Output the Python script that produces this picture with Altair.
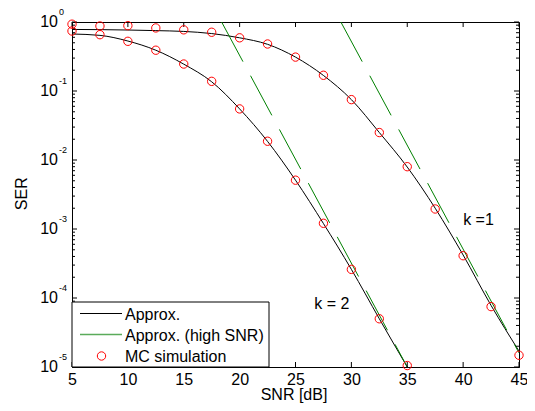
import altair as alt
import pandas as pd

# ---------------- data ----------------
snr_k1 = [5, 7.5, 10, 12.5, 15, 17.5, 20, 22.5, 25, 27.5, 30, 32.5, 35, 37.5, 40, 42.5, 45]
approx_k1 = [0.78, 0.775, 0.765, 0.75, 0.73, 0.68, 0.59, 0.475, 0.31, 0.168, 0.075, 0.025,
             0.0079, 0.0020, 4.2e-4, 7.8e-5, 1.7e-5]
mc_k1 = [0.93, 0.875, 0.885, 0.82, 0.77, 0.71, 0.59, 0.48, 0.31, 0.169, 0.075, 0.025,
         0.008, 0.00195, 4.1e-4, 7.5e-5, 1.48e-5]

snr_k2 = [5, 7.5, 10, 12.5, 15, 17.5, 20, 22.5, 25, 27.5, 30, 32.5, 35]
approx_k2 = [0.67, 0.64, 0.53, 0.39, 0.245, 0.136, 0.055, 0.0186, 0.0051, 1.2e-3, 2.6e-4, 5.0e-5, 1.0e-5]
mc_k2 = [0.74, 0.655, 0.525, 0.39, 0.246, 0.138, 0.055, 0.0187, 0.0051, 1.21e-3, 2.6e-4, 5.0e-5, 1.05e-5]

# high-SNR asymptotes (straight in dB / log SER)
hs_k1_snr = [29.06, 45]
hs_k1_ser = [1.0, 1.6e-5]
hs_k2_snr = [18.39, 35]
hs_k2_ser = [1.0, 1.0e-5]

x_ticks = [5, 10, 15, 20, 25, 30, 35, 40, 45]
y_decades = [1, 1e-1, 1e-2, 1e-3, 1e-4, 1e-5]
y_exponents = ["0", "-1", "-2", "-3", "-4", "-5"]
y_minor = [m * d for d in [1e-5, 1e-4, 1e-3, 1e-2, 1e-1] for m in range(2, 10)]

curve_labels = ["k =1", "k = 2"]
curve_label_snr = [40.0, 26.68]
curve_label_ser = [1.35e-3, 8.3e-5]

legend_labels = ["Approx.", "Approx. (high SNR)", "MC simulation"]

# ---------------- styling ----------------
W, H = 447, 345
FONT = "Liberation Sans"
FS = 16
GREEN = "#008000"

xs = alt.Scale(domain=[5, 45], nice=False, zero=False)
ys = alt.Scale(type="log", domain=[1e-5, 1], nice=False)

approx_df = pd.DataFrame({
    "snr": snr_k1 + snr_k2,
    "ser": approx_k1 + approx_k2,
    "k": ["1"] * len(snr_k1) + ["2"] * len(snr_k2),
})
mc_df = pd.DataFrame({
    "snr": snr_k1 + snr_k2,
    "ser": mc_k1 + mc_k2,
})
hs_df = pd.DataFrame({
    "snr": hs_k1_snr + hs_k2_snr,
    "ser": hs_k1_ser + hs_k2_ser,
    "k": ["1", "1", "2", "2"],
})
xt_df = pd.DataFrame({"snr": x_ticks})
yd_df = pd.DataFrame({"ser": y_decades, "exp": y_exponents})
ym_df = pd.DataFrame({"ser": y_minor})
lab_df = pd.DataFrame({"snr": curve_label_snr, "ser": curve_label_ser, "t": curve_labels})
one = pd.DataFrame({"a": [0]})

x_axis = alt.Axis(values=x_ticks, ticks=False, grid=False, domainColor="black",
                  labelFont=FONT, labelFontSize=FS, labelColor="black",
                  labelPadding=4, labelFlush=False, title=None)

approx = alt.Chart(approx_df).mark_line(color="black", strokeWidth=1, clip=True,
                                        interpolate="monotone").encode(
    x=alt.X("snr:Q", scale=xs, axis=x_axis),
    y=alt.Y("ser:Q", scale=ys, axis=None),
    detail="k:N",
)

hs = alt.Chart(hs_df).mark_line(color=GREEN, strokeWidth=1, strokeDash=[45, 16], clip=True).encode(
    x=alt.X("snr:Q", scale=xs),
    y=alt.Y("ser:Q", scale=ys),
    detail="k:N",
)

mc = alt.Chart(mc_df).mark_point(shape="circle", filled=False, color="red",
                                 size=70, strokeWidth=1, opacity=1).encode(
    x=alt.X("snr:Q", scale=xs),
    y=alt.Y("ser:Q", scale=ys),
)

labels = alt.Chart(lab_df).mark_text(align="left", baseline="middle", font=FONT,
                                     fontSize=FS, color="black").encode(
    x=alt.X("snr:Q", scale=xs),
    y=alt.Y("ser:Q", scale=ys),
    text="t:N",
)

# inward ticks
yl_major = alt.Chart(yd_df).mark_rule(color="black", strokeWidth=1).encode(
    y=alt.Y("ser:Q", scale=ys), x=alt.value(0), x2=alt.value(5))
yr_major = alt.Chart(yd_df).mark_rule(color="black", strokeWidth=1).encode(
    y=alt.Y("ser:Q", scale=ys), x=alt.value(W - 5), x2=alt.value(W))
yl_minor = alt.Chart(ym_df).mark_rule(color="black", strokeWidth=1).encode(
    y=alt.Y("ser:Q", scale=ys), x=alt.value(0), x2=alt.value(3))
yr_minor = alt.Chart(ym_df).mark_rule(color="black", strokeWidth=1).encode(
    y=alt.Y("ser:Q", scale=ys), x=alt.value(W - 3), x2=alt.value(W))
xb_major = alt.Chart(xt_df).mark_rule(color="black", strokeWidth=1).encode(
    x=alt.X("snr:Q", scale=xs), y=alt.value(H - 5), y2=alt.value(H))
xt_major = alt.Chart(xt_df).mark_rule(color="black", strokeWidth=1).encode(
    x=alt.X("snr:Q", scale=xs), y=alt.value(0), y2=alt.value(5))

# y tick labels with superscript exponents
ylab_10 = alt.Chart(yd_df).mark_text(align="right", baseline="middle", font=FONT,
                                     fontSize=FS, color="black", text="10").encode(
    y=alt.Y("ser:Q", scale=ys), x=alt.value(-14))
ylab_exp = alt.Chart(yd_df).mark_text(align="left", baseline="alphabetic", font=FONT,
                                      fontSize=9, color="black", dy=-7.5).encode(
    y=alt.Y("ser:Q", scale=ys), x=alt.value(-13), text="exp:N")

# axis titles
ser_title = alt.Chart(one).mark_text(text="SER", angle=270, align="center", baseline="middle",
                                     font=FONT, fontSize=FS, color="black").encode(
    x=alt.value(-49.8), y=alt.value(171.7))
snr_title = alt.Chart(one).mark_text(text="SNR [dB]", align="center", baseline="alphabetic",
                                     font=FONT, fontSize=FS, color="black").encode(
    x=alt.value(222), y=alt.value(378))

# legend
leg_box = alt.Chart(one).mark_rect(fill="white", stroke="black", strokeWidth=1).encode(
    x=alt.value(0), x2=alt.value(197), y=alt.value(280), y2=alt.value(H))
leg_l1 = alt.Chart(one).mark_rule(color="black", strokeWidth=1).encode(
    x=alt.value(8), x2=alt.value(50), y=alt.value(291.5))
leg_l2 = alt.Chart(one).mark_rule(color="#5aab5a", strokeWidth=1.5).encode(
    x=alt.value(8), x2=alt.value(50), y=alt.value(312.5))
leg_p = alt.Chart(one).mark_point(shape="circle", filled=False, color="red", size=70,
                                  strokeWidth=1, opacity=1).encode(
    x=alt.value(29.5), y=alt.value(334))
leg_texts = [
    alt.Chart(one).mark_text(text=t, align="left", baseline="middle", font=FONT,
                             fontSize=FS, color="black").encode(
        x=alt.value(53), y=alt.value(yy))
    for t, yy in zip(legend_labels, [292.5, 313.5, 335])
]

chart = alt.layer(
    approx, hs, yl_major, yr_major, yl_minor, yr_minor, xb_major, xt_major,
    mc, labels, ylab_10, ylab_exp, ser_title, snr_title,
    leg_box, leg_l1, leg_l2, leg_p, *leg_texts,
).properties(
    width=W, height=H,
    autosize=alt.AutoSizeParams(type="none"),
    padding={"left": 64, "top": 14, "right": 8, "bottom": 36},
).configure_view(
    stroke="black", strokeWidth=1
).configure_axis(
    domainColor="black"
)

chart.save("out.html", embed_options={"renderer": "svg", "actions": False})
